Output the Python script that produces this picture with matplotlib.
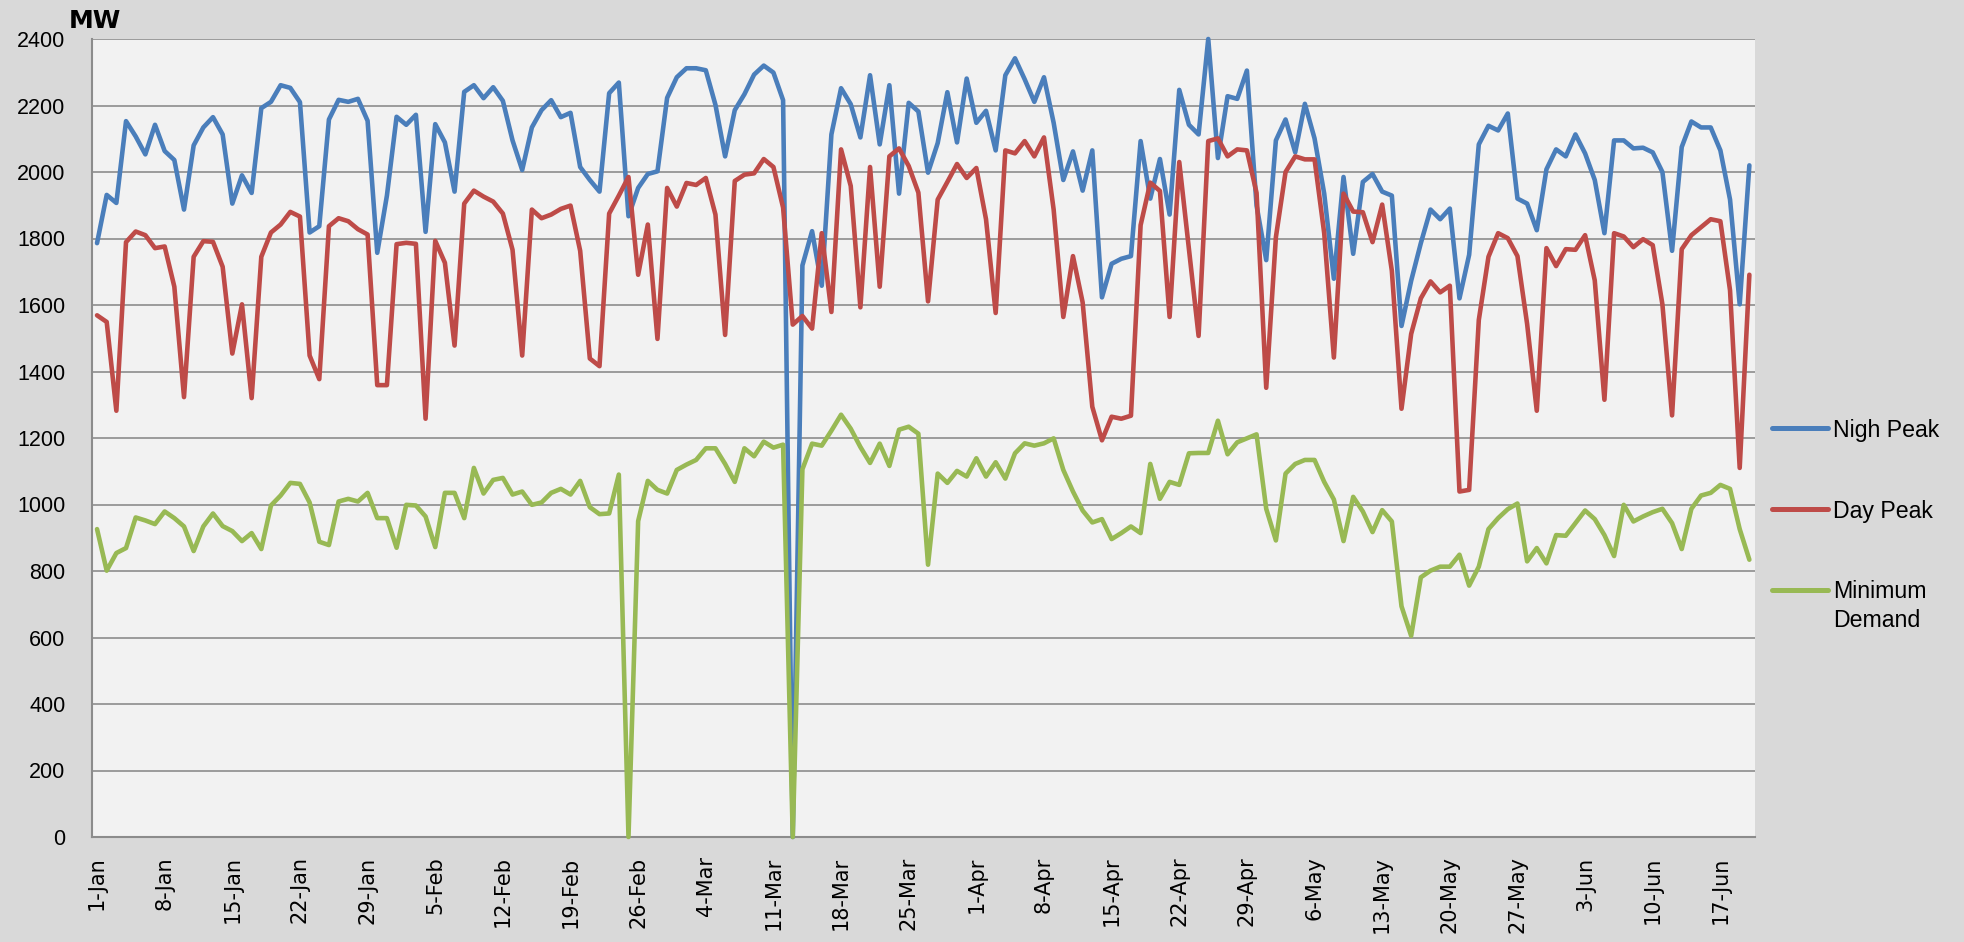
import numpy as np
import pandas as pd
import matplotlib
matplotlib.use("Agg")
import matplotlib.pyplot as plt
import matplotlib.dates as mdates
from matplotlib.lines import Line2D

# === Data: one value per day, 1-Jan to 20-Jun ===
dates = pd.date_range("2012-01-01", periods=172, freq="D")

nigh_peak = [
    1786, 1931, 1907, 2153, 2107, 2053, 2142, 2063, 2036, 1887, 2080, 2134, 2165, 2113, 1905,
    1990, 1937, 2192, 2211, 2261, 2253, 2210, 1818, 1837, 2158, 2217, 2211, 2220, 2154, 1757,
    1929, 2166, 2142, 2172, 1820, 2144, 2089, 1941, 2241, 2261, 2222, 2255, 2214, 2095, 2006,
    2134, 2186, 2216, 2165, 2178, 2015, 1976, 1941, 2237, 2269, 1867, 1952, 1994, 2002,
    2223, 2285, 2312, 2312, 2306, 2202, 2047, 2186, 2234, 2293, 2320, 2299, 2216, 0, 1719,
    1822, 1658, 2113, 2252, 2204, 2104, 2291, 2083, 2261, 1935, 2208, 2182, 1998, 2087,
    2240, 2089, 2281, 2148, 2184, 2065, 2291, 2342, 2279, 2211, 2285, 2148, 1976, 2062, 1944,
    2065, 1623, 1724, 1739, 1747, 2093, 1920, 2039, 1872, 2247, 2142, 2113, 2400, 2042,
    2228, 2220, 2305, 1899, 1735, 2095, 2158, 2059, 2205, 2101, 1935, 1679, 1985, 1754, 1970,
    1994, 1941, 1929, 1537, 1673, 1786, 1887, 1858, 1890, 1620, 1751, 2083, 2139, 2125,
    2176, 1920, 1905, 1825, 2008, 2068, 2047, 2113, 2056, 1976, 1816, 2095, 2095, 2071, 2073,
    2059, 2000, 1763, 2075, 2152, 2134, 2134, 2065, 1917, 1602, 2020,
]

day_peak = [
    1569, 1549, 1282, 1789, 1821, 1810, 1771, 1776, 1655, 1323, 1745, 1792, 1790, 1715, 1454,
    1602, 1320, 1745, 1818, 1842, 1880, 1866, 1448, 1377, 1837, 1861, 1852, 1828, 1812, 1359,
    1359, 1783, 1787, 1784, 1258, 1793, 1727, 1478, 1905, 1944, 1926, 1911, 1875, 1766, 1448,
    1887, 1861, 1872, 1889, 1899, 1763, 1439, 1416, 1875, 1929, 1985, 1691, 1842, 1498,
    1952, 1896, 1967, 1961, 1982, 1872, 1510, 1973, 1992, 1996, 2039, 2015, 1893, 1541, 1567,
    1529, 1816, 1579, 2068, 1958, 1593, 2015, 1655, 2047, 2071, 2018, 1938, 1611, 1917,
    1970, 2024, 1982, 2012, 1858, 1576, 2065, 2056, 2093, 2047, 2104, 1887, 1564, 1747, 1608,
    1294, 1193, 1264, 1258, 1267, 1840, 1968, 1943, 1564, 2030, 1769, 1507, 2093, 2101,
    2047, 2068, 2065, 1937, 1351, 1804, 2000, 2047, 2038, 2038, 1816, 1442, 1935, 1881, 1879,
    1789, 1902, 1703, 1288, 1513, 1620, 1671, 1638, 1658, 1039, 1044, 1555, 1745, 1816,
    1801, 1747, 1543, 1282, 1771, 1717, 1768, 1766, 1810, 1674, 1315, 1816, 1806, 1774, 1798,
    1780, 1602, 1268, 1768, 1810, 1834, 1858, 1852, 1644, 1110, 1691,
]

min_demand = [
    926, 801, 854, 869, 961, 952, 941, 979, 959, 934, 860, 934, 973, 935, 920,
    890, 914, 866, 997, 1027, 1065, 1062, 1006, 888, 878, 1009, 1017, 1009, 1035, 959,
    959, 870, 999, 997, 964, 872, 1035, 1035, 959, 1110, 1033, 1074, 1080, 1030, 1039,
    999, 1006, 1035, 1047, 1030, 1071, 992, 971, 973, 1090, 0, 950, 1071, 1044,
    1033, 1104, 1120, 1134, 1169, 1169, 1122, 1068, 1169, 1145, 1189, 1171, 1180, 0, 1106,
    1183, 1177, 1222, 1270, 1228, 1173, 1125, 1183, 1116, 1225, 1234, 1213, 819, 1093,
    1065, 1101, 1084, 1139, 1084, 1127, 1078, 1154, 1184, 1177, 1184, 1199, 1104, 1039, 982,
    946, 956, 896, 914, 934, 914, 1122, 1017, 1068, 1059, 1154, 1155, 1155, 1252,
    1151, 1187, 1199, 1211, 987, 892, 1093, 1122, 1134, 1134, 1068, 1015, 890, 1023, 979,
    917, 983, 949, 694, 605, 781, 801, 813, 813, 849, 756, 813, 926, 959,
    986, 1003, 829, 869, 823, 908, 906, 944, 982, 956, 908, 845, 999, 949, 964,
    977, 987, 944, 866, 987, 1027, 1035, 1059, 1047, 926, 834,
]

tick_labels = ["1-Jan", "8-Jan", "15-Jan", "22-Jan", "29-Jan", "5-Feb", "12-Feb", "19-Feb",
               "26-Feb", "4-Mar", "11-Mar", "18-Mar", "25-Mar", "1-Apr", "8-Apr", "15-Apr",
               "22-Apr", "29-Apr", "6-May", "13-May", "20-May", "27-May", "3-Jun", "10-Jun",
               "17-Jun"]
y_ticks = list(range(0, 2401, 200))

series = [("Nigh Peak", nigh_peak, "#4A7EBB"),
          ("Day Peak", day_peak, "#BE4B48"),
          ("Minimum\nDemand", min_demand, "#98B954")]

# === Figure ===
fig = plt.figure(figsize=(19.64, 9.42), dpi=100, facecolor="#D9D9D9")
ax = fig.add_axes([92 / 1964, 1 - 837 / 942, (1755 - 92) / 1964, (837 - 39) / 942])
ax.set_facecolor("#F2F2F2")

for name, vals, col in series:
    ax.plot(dates, vals, color=col, lw=3.3, solid_joinstyle="round",
            solid_capstyle="round", clip_on=False, zorder=3)

ax.set_ylim(0, 2400)
ax.set_xlim(dates[0] - pd.Timedelta(hours=12.5), dates[-1] + pd.Timedelta(hours=14))
ax.set_yticks(y_ticks)
ax.set_yticklabels([str(v) for v in y_ticks], family="Liberation Sans", fontsize=15.5)
ax.yaxis.grid(True, color="#8C8C8C", lw=1.2)
ax.set_axisbelow(True)

tick_dates = pd.date_range("2012-01-01", periods=len(tick_labels), freq="7D")
ax.set_xticks(tick_dates)
ax.set_xticklabels(tick_labels, rotation=90, family="DejaVu Sans", fontsize=15)

ax.tick_params(axis="y", length=0, pad=19)
ax.tick_params(axis="x", length=0, pad=14)
for s in ["top", "right"]:
    ax.spines[s].set_visible(False)
for s in ["left", "bottom"]:
    ax.spines[s].set_color("#8C8C8C")
    ax.spines[s].set_linewidth(1.5)

fig.text(69 / 1964, 1 - 28 / 942, "MW", fontsize=18, fontweight="bold",
         family="DejaVu Sans", va="baseline", ha="left")

# === Legend drawn by hand (Excel style, right side) ===
legend_y = [428, 509, 606]
for (name, vals, col), ly in zip(series, legend_y):
    line_y = ly if "\n" not in name else 590
    fig.add_artist(Line2D([1772 / 1964, 1828 / 1964], [1 - line_y / 942] * 2,
                          color=col, lw=3.6, solid_capstyle="round",
                          transform=fig.transFigure))
    fig.text(1833 / 1964, 1 - ly / 942, name, fontsize=16.7, family="Liberation Sans",
             va="center_baseline" if "\n" not in name else "center",
             ha="left", linespacing=1.38)

fig.savefig("out.png", dpi=100, facecolor=fig.get_facecolor())
